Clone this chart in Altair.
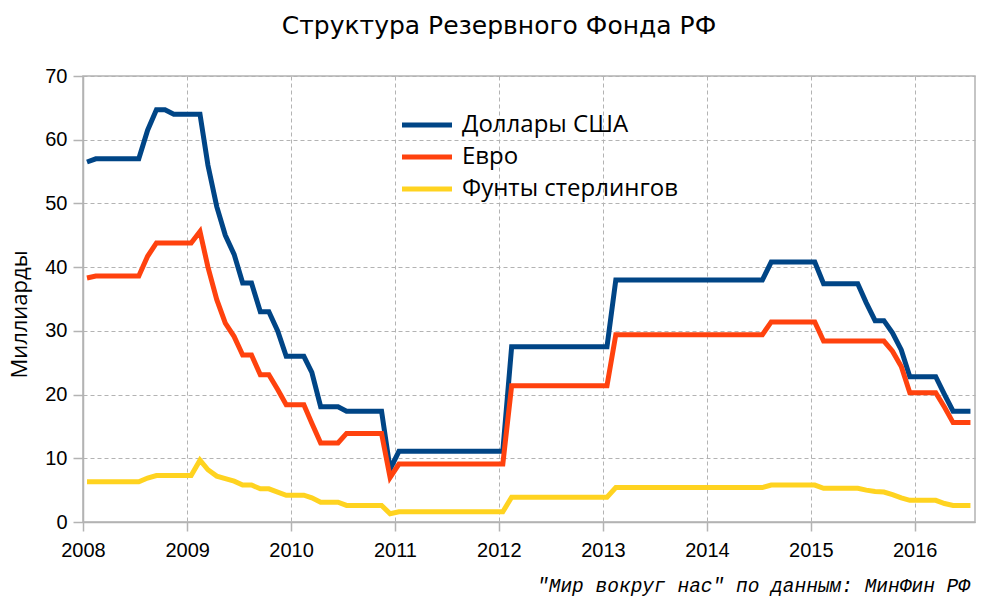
import altair as alt
import pandas as pd

# monthly observations, Jan 2008 .. Jul 2016 (mid-month)
months = pd.date_range("2008-01-01", "2016-07-01", freq="MS") + pd.Timedelta(days=14)

usd = [56.5, 57.0, 57.0, 57.0, 57.0, 57.0, 57.0, 61.5, 64.7, 64.7, 64.0, 64.0, 64.0, 64.0,
       56.0, 49.5, 45.0, 42.0, 37.5, 37.5, 33.0, 33.0, 30.0, 26.0, 26.0, 26.0, 23.5, 18.1,
       18.1, 18.1, 17.4, 17.4, 17.4, 17.4, 17.4, 8.3,
       11.1, 11.1, 11.1, 11.1, 11.1, 11.1, 11.1, 11.1, 11.1, 11.1, 11.1, 11.1, 11.1,
       27.5, 27.5, 27.5, 27.5, 27.5, 27.5, 27.5, 27.5, 27.5, 27.5, 27.5, 27.5,
       38.0, 38.0, 38.0, 38.0, 38.0, 38.0, 38.0, 38.0, 38.0, 38.0, 38.0, 38.0, 38.0, 38.0,
       38.0, 38.0, 38.0, 38.0,
       40.8, 40.8, 40.8, 40.8, 40.8, 40.8,
       37.4, 37.4, 37.4, 37.4, 37.4,
       34.4, 31.6, 31.6, 29.7, 27.0, 22.8, 22.8, 22.8, 22.8, 20.0, 17.4, 17.4, 17.4]

eur = [38.3, 38.6, 38.6, 38.6, 38.6, 38.6, 38.6, 41.7, 43.8, 43.8, 43.8, 43.8, 43.8, 45.6,
       40.0, 34.9, 31.2, 29.1, 26.2, 26.2, 23.1, 23.1, 20.8, 18.4, 18.4, 18.4, 15.5, 12.4,
       12.4, 12.4, 13.9, 13.9, 13.9, 13.9, 13.9, 7.0,
       9.1, 9.1, 9.1, 9.1, 9.1, 9.1, 9.1, 9.1, 9.1, 9.1, 9.1, 9.1, 9.1,
       21.4, 21.4, 21.4, 21.4, 21.4, 21.4, 21.4, 21.4, 21.4, 21.4, 21.4, 21.4,
       29.4, 29.4, 29.4, 29.4, 29.4, 29.4, 29.4, 29.4, 29.4, 29.4, 29.4, 29.4, 29.4, 29.4,
       29.4, 29.4, 29.4, 29.4,
       31.4, 31.4, 31.4, 31.4, 31.4, 31.4,
       28.4, 28.4, 28.4, 28.4, 28.4, 28.4, 28.4, 28.4,
       26.8, 24.4, 20.3, 20.3, 20.3, 20.3, 18.0, 15.6, 15.6, 15.6]

gbp = [6.3, 6.3, 6.3, 6.3, 6.3, 6.3, 6.3, 6.9, 7.3, 7.3, 7.3, 7.3, 7.3, 9.7,
       8.2, 7.2, 6.8, 6.4, 5.8, 5.8, 5.2, 5.2, 4.7, 4.2, 4.2, 4.2, 3.8, 3.1,
       3.1, 3.1, 2.6, 2.6, 2.6, 2.6, 2.6, 1.3,
       1.6, 1.6, 1.6, 1.6, 1.6, 1.6, 1.6, 1.6, 1.6, 1.6, 1.6, 1.6, 1.6,
       3.9, 3.9, 3.9, 3.9, 3.9, 3.9, 3.9, 3.9, 3.9, 3.9, 3.9, 3.9,
       5.4, 5.4, 5.4, 5.4, 5.4, 5.4, 5.4, 5.4, 5.4, 5.4, 5.4, 5.4, 5.4, 5.4,
       5.4, 5.4, 5.4, 5.4,
       5.8, 5.8, 5.8, 5.8, 5.8, 5.8,
       5.3, 5.3, 5.3, 5.3, 5.3,
       5.0, 4.8, 4.7, 4.3, 3.8, 3.4, 3.4, 3.4, 3.4, 2.9, 2.6, 2.6, 2.6]

series_names = ["Доллары США", "Евро", "Фунты стерлингов"]
series_colors = ["#004586", "#ff420e", "#ffd320"]
year_ticks = [f"{y}-01-01" for y in range(2008, 2017)]
title_text = "Структура Резервного Фонда РФ"
source_text = "\"Мир вокруг нас\" по данным: МинФин РФ"

rows = []
for name, vals in zip(series_names, [usd, eur, gbp]):
    for d, v in zip(months, vals):
        rows.append({"date": d, "value": v, "series": name})
df = pd.DataFrame(rows)

W, H = 892, 446

lines = alt.Chart(df).mark_line(strokeWidth=5, strokeJoin="miter").encode(
    x=alt.X("date:T",
            scale=alt.Scale(domain=["2008-01-01", "2016-07-31"]),
            axis=alt.Axis(values=year_ticks, format="%Y", title=None, tickSize=9,
                          labelPadding=9, labelFlush=False, labelOverlap=False)),
    y=alt.Y("value:Q",
            scale=alt.Scale(domain=[0, 70], nice=False),
            axis=alt.Axis(values=list(range(0, 80, 10)), title="Миллиарды", tickSize=10,
                          labelPadding=6, titleFont="Open Sans", titleFontSize=22,
                          titleFontWeight="normal", titleX=-57, titleY=238,
                          titleBaseline="alphabetic")),
    color=alt.Color("series:N",
                    scale=alt.Scale(domain=series_names, range=series_colors),
                    sort=series_names,
                    legend=alt.Legend(title=None, orient="none", legendX=332, legendY=37,
                                      symbolType="M-5,0H5", symbolSize=100,
                                      symbolStrokeWidth=5, labelFontSize=24,
                                      labelFont="Open Sans", labelColor="black",
                                      labelOffset=23, rowPadding=8, labelLimit=0)),
    detail="series:N",
)

ttl = alt.Chart(pd.DataFrame({"t": [title_text]})).mark_text(
    align="center", baseline="alphabetic", font="DejaVu Sans", fontSize=25, color="black"
).encode(text="t:N", x=alt.value(416), y=alt.value(-42))

src = alt.Chart(pd.DataFrame({"t": [source_text]})).mark_text(
    align="right", baseline="alphabetic", font="Liberation Mono", fontStyle="italic",
    fontSize=19.5, color="black"
).encode(text="t:N", x=alt.value(W - 5), y=alt.value(H + 70))

chart = alt.layer(lines, ttl, src).properties(
    width=W, height=H,
    autosize=alt.AutoSizeParams(type="none"),
    padding={"left": 75, "top": 68, "right": 11, "bottom": 78},
).configure_axis(
    domainColor="#b3b3b3", tickColor="#b3b3b3", gridColor="#b3b3b3", gridDash=[4, 3],
    labelFont="Liberation Sans", labelFontSize=20, labelColor="black",
    domainWidth=1.5, gridWidth=1, tickWidth=1.5,
).configure_view(stroke="#b3b3b3", strokeWidth=1.5)

chart.save("out.html", embed_options={"renderer": "svg", "actions": False})
